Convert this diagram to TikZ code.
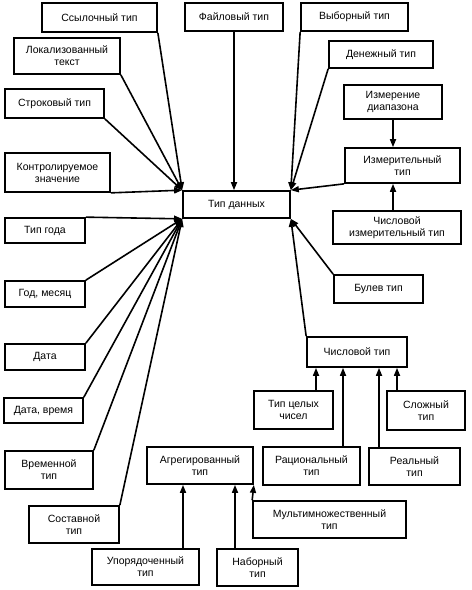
\documentclass[tikz,border=0pt]{standalone}
\usepackage{fontspec}
\setmainfont{Liberation Sans}
\usepackage{tikz}
\usetikzlibrary{positioning}
\usetikzlibrary{arrows.meta}
\tikzstyle{box} = [rectangle, draw=black, line width=1.7pt, inner sep=0pt, align=center, font=\fontsize{10.5}{12}\selectfont]
\tikzstyle{arrow} = [line width=1.6pt,-{Triangle[length=8pt,width=6pt]}]

\begin{document}
\begin{tikzpicture}[x=1pt,y=-1pt] %[every node/.style={box}]
\useasboundingbox (0,0) rectangle (472,590);
\node[box, minimum width=107pt, minimum height=27pt] (tip) at (236.5,204.5) {Тип данных};
\node[box, minimum width=115pt, minimum height=29pt] (ssyl) at (99.5,17.5) {Ссылочный тип};
\node[box, minimum width=106pt, minimum height=36pt] (lokal) at (67,56) {Локализованный\\текст};
\node[box, minimum width=99pt, minimum height=29pt] (strok) at (54.5,103.5) {Строковый тип};
\node[box, minimum width=105pt, minimum height=39pt] (kontr) at (57.5,172.5) {Контролируемое\\значение};
\node[box, minimum width=80pt, minimum height=25pt] (god) at (45,230.5) {Тип года};
\node[box, minimum width=80pt, minimum height=26pt] (godmes) at (45,294) {Год, месяц};
\node[box, minimum width=80pt, minimum height=26pt] (data) at (45,357) {Дата};
\node[box, minimum width=79pt, minimum height=25pt] (datavr) at (43.5,410.5) {Дата, время};
\node[box, minimum width=88pt, minimum height=38pt] (vrem) at (49,470) {Временной\\тип};
\node[box, minimum width=90pt, minimum height=37pt] (sost) at (74,524.5) {Составной\\тип};
\node[box, minimum width=107pt, minimum height=36pt] (upor) at (145.5,567) {Упорядоченный\\тип};
\node[box, minimum width=106pt, minimum height=37pt] (agr) at (200,465.5) {Агрегированный\\тип};
\node[box, minimum width=81pt, minimum height=37pt] (nabor) at (257.5,567.5) {Наборный\\тип};
\node[box, minimum width=153pt, minimum height=37pt] (multi) at (329.5,519.5) {Мультимножественный\\тип};
\node[box, minimum width=79pt, minimum height=38pt] (tsel) at (293.5,410) {Тип целых\\чисел};
\node[box, minimum width=97pt, minimum height=38pt] (ratsion) at (311.5,466) {Рациональный\\тип};
\node[box, minimum width=91pt, minimum height=37pt] (real) at (414.5,466.5) {Реальный\\тип};
\node[box, minimum width=78pt, minimum height=39pt] (slozh) at (426,410.5) {Сложный\\тип};
\node[box, minimum width=100pt, minimum height=30pt] (chisl) at (357,352) {Числовой тип};
\node[box, minimum width=89pt, minimum height=28pt] (bul) at (378.5,289) {Булев тип};
\node[box, minimum width=128pt, minimum height=33pt] (chizm) at (397,227.5) {Числовой\\измерительный тип};
\node[box, minimum width=115pt, minimum height=35pt] (izmer) at (402.5,165.5) {Измерительный\\тип};
\node[box, minimum width=98pt, minimum height=34pt] (diap) at (393,102) {Измерение\\диапазона};
\node[box, minimum width=104pt, minimum height=27pt] (den) at (381,54.5) {Денежный тип};
\node[box, minimum width=107pt, minimum height=28pt] (vybor) at (354.5,17) {Выборный тип};
\node[box, minimum width=98pt, minimum height=28pt] (fail) at (234,17) {Файловый тип};
\draw[arrow] (ssyl.south east) -- (tip.north west);
\draw[arrow] (lokal.south east) -- (tip.north west);
\draw[arrow] (strok.south east) -- (tip.north west);
\draw[arrow] (kontr.south east) -- (tip.north west);
\draw[arrow] (god.north east) -- (tip.south west);
\draw[arrow] (godmes.north east) -- (tip.south west);
\draw[arrow] (data.north east) -- (tip.south west);
\draw[arrow] (datavr.north east) -- (tip.south west);
\draw[arrow] (vrem.north east) -- (tip.south west);
\draw[arrow] (sost.north east) -- (tip.south west);
\draw[arrow] (fail.south) -- (fail.south |- tip.north);
\draw[arrow] (vybor.south west) -- (tip.north east);
\draw[arrow] (den.south west) -- (tip.north east);
\draw[arrow] (izmer.south west) -- (tip.north east);
\draw[arrow] (diap.south) -- (diap.south |- izmer.north);
\draw[arrow] (diap.south |- chizm.north) -- (diap.south |- izmer.south);
\draw[arrow] (bul.north west) -- (tip.south east);
\draw[arrow] (chisl.north west) -- (tip.south east);
\draw[arrow] ([xshift=22.5pt]tsel.north) -- ([xshift=22.5pt]tsel.north |- chisl.south);
\draw[arrow] ([xshift=31.5pt]ratsion.north) -- ([xshift=31.5pt]ratsion.north |- chisl.south);
\draw[arrow] ([xshift=-35.5pt]real.north) -- ([xshift=-35.5pt]real.north |- chisl.south);
\draw[arrow] ([xshift=-29pt]slozh.north) -- ([xshift=-29pt]slozh.north |- chisl.south);
\draw[arrow] ([xshift=37.5pt]upor.north) -- ([xshift=37.5pt]upor.north |- agr.south);
\draw[arrow] ([xshift=-22.5pt]nabor.north) -- ([xshift=-22.5pt]nabor.north |- agr.south);
\draw[arrow] (multi.north west) -- (agr.south east);
\end{tikzpicture}
\end{document}
